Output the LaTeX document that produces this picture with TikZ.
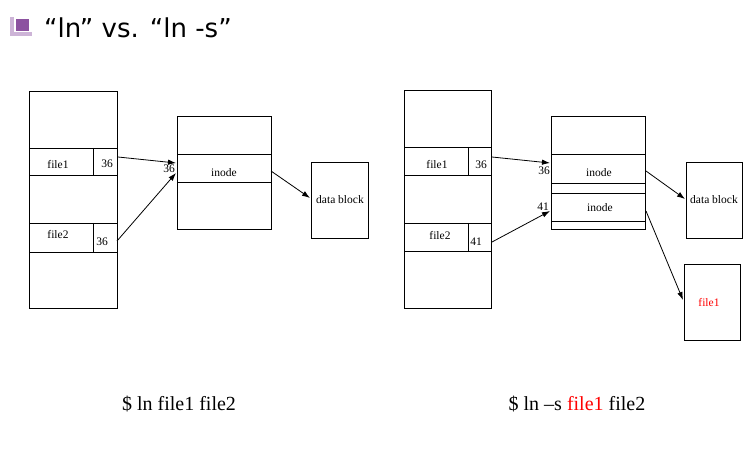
\documentclass[tikz,border=0pt]{standalone}
\usepackage{fontspec}
\setmainfont{Liberation Serif}
\newfontfamily\titlefont{DejaVu Sans}
\usetikzlibrary{arrows.meta}
\definecolor{bulletdark}{RGB}{140,82,160}
\definecolor{bulletlight}{RGB}{205,180,215}

\begin{document}
\begin{tikzpicture} [x=1pt, y=-1pt,
				box/.style={
				% The border:
				draw=black, line width=0.8pt
				},
				lbl/.style={
				% The font:
				font=\fontsize{11.5}{13}\selectfont,
				inner sep=0pt
				},
				ptr/.style={
				% The line:
				line width=0.8pt,
				% The tip:
				-{Latex[length=8pt,width=5.5pt]}
				},
				cmd/.style={
				% The font:
				font=\fontsize{20}{24}\selectfont,
				inner sep=0pt
				},
				]
    \useasboundingbox (0,0) rectangle (756,449);
    % title
    \fill[bulletlight] (10,17) rectangle (32,36);
    \fill[white] (14,17) rectangle (32,32);
    \fill[bulletdark] (16,19) rectangle (29,31);
    \node [anchor=base west, inner sep=0pt, font=\titlefont\fontsize{26}{30}\selectfont] (title) at (44,38) {“ln” vs. “ln -s”};

    % ---- hard link ----
    \draw [box] (29,91) rectangle (117,308);
    \draw [box] (29,148) rectangle (117,175);
    \draw [box] (29,223) rectangle (117,252);
    \draw [box] (93,148) -- (93,175);
    \draw [box] (93,223) -- (93,252);
    \node [lbl] (nameA1) at (58,165) {file1};
    \node [lbl] (numA1) at (107,164) {36};
    \node [lbl] (nameA2) at (58,235) {file2};
    \node [lbl] (numA2) at (102,242) {36};
    \coordinate (outA1) at (118,157);
    \coordinate (outA2) at (117,241);

    \draw [box] (177,116) rectangle (271,229);
    \draw [box] (177,154) -- (271,154);
    \draw [box] (177,182) -- (271,182);
    \node [lbl] (inodeA) at (224,173) {inode};
    \node [lbl] (idA) at (169,169) {36};
    \coordinate (inA1) at (176,163);
    \coordinate (inA2) at (176,173);
    \coordinate (outInodeA) at (271,171);

    \node [box, anchor=north west, minimum width=57pt, minimum height=76pt, inner sep=0pt] (dataA) at (311,162) {};
    \node [lbl] (dataTextA) at (340,200) {data block};

    \draw [ptr] (outA1) -- (inA1);
    \draw [ptr] (outA2) -- (inA2);
    \draw [ptr] (outInodeA) -- (310,198);

    \node [cmd] (cmdA) at (179,404) {\$ ln file1 file2};

    % ---- symbolic link ----
    \draw [box] (404,90) rectangle (491,308);
    \draw [box] (404,147) rectangle (491,175);
    \draw [box] (404,223) rectangle (491,251);
    \draw [box] (468,147) -- (468,175);
    \draw [box] (468,223) -- (468,251);
    \node [lbl] (nameB1) at (437,165) {file1};
    \node [lbl] (numB1) at (481,165) {36};
    \node [lbl] (nameB2) at (440,236) {file2};
    \node [lbl] (numB2) at (476,242) {41};
    \coordinate (outB1) at (492,157);
    \coordinate (outB2) at (492,242);

    \draw [box] (551,116) rectangle (645,229);
    \draw [box] (551,154) -- (645,154);
    \draw [box] (551,183) -- (645,183);
    \draw [box] (551,193) -- (645,193);
    \draw [box] (551,221) -- (645,221);
    \node [lbl] (inodeB1) at (599,173) {inode};
    \node [lbl] (inodeB2) at (600,208) {inode};
    \node [lbl] (idB1) at (544,171) {36};
    \node [lbl] (idB2) at (543,207) {41};
    \coordinate (inB1) at (550,163);
    \coordinate (inB2) at (550,211);
    \coordinate (outInodeB1) at (646,171);
    \coordinate (outInodeB2) at (646,211);

    \node [box, anchor=north west, minimum width=56pt, minimum height=76pt, inner sep=0pt] (dataB) at (686,162) {};
    \node [lbl] (dataTextB) at (714,200) {data block};
    \node [box, anchor=north west, minimum width=56pt, minimum height=76pt, inner sep=0pt] (linkB) at (684,264) {};
    \node [lbl, text=red] (linkTextB) at (709,303) {file1};

    \draw [ptr] (outB1) -- (inB1);
    \draw [ptr] (outB2) -- (inB2);
    \draw [ptr] (outInodeB1) -- (685,199);
    \draw [ptr] (outInodeB2) -- (683,300);

    \node [cmd] (cmdB) at (577,404) {\$ ln –s \textcolor{red}{file1} file2};
\end{tikzpicture}
\end{document}
